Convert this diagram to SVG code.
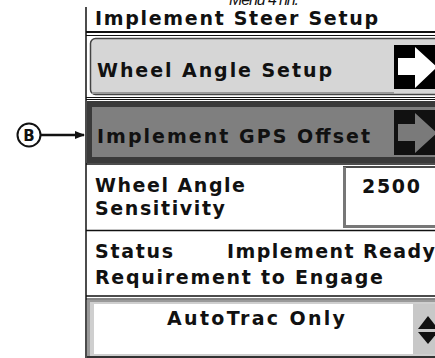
<svg xmlns="http://www.w3.org/2000/svg" width="435" height="358" viewBox="0 0 435 358">
<style>
.t{font-family:"DejaVu Sans",Verdana,sans-serif;font-weight:bold;font-size:19px;fill:#111}
.cap{font-family:"Liberation Sans",Arial,sans-serif;font-style:italic;font-size:16px;fill:#111}
.ln{stroke:#111;fill:none}
</style>
<defs>
<marker id="ah" markerWidth="10" markerHeight="8" refX="9" refY="4" orient="auto" markerUnits="userSpaceOnUse">
<path d="M0,0 L10,4 L0,8 Z" fill="#111"/>
</marker>
</defs>
<rect width="435" height="358" fill="#fff"/>
<text class="cap" x="229" y="5" textLength="70" lengthAdjust="spacing">Menu 4 nn.</text>
<line class="ln" x1="86" y1="7" x2="86" y2="358" stroke-width="1.5"/>

<g id="title">
<text class="t" x="95" y="24.5" textLength="283" lengthAdjust="spacing">Implement Steer Setup</text>
<line class="ln" x1="86" y1="32" x2="435" y2="32" stroke-width="2"/>
<line class="ln" x1="86" y1="35.5" x2="435" y2="35.5" stroke-width="1"/>
</g>

<g id="wheel-angle-setup">
<rect x="90.5" y="38.5" width="360" height="56" rx="5" fill="#d6d6d6" stroke="#444" stroke-width="1.5"/>
<line x1="92" y1="93" x2="394" y2="93" stroke="#999" stroke-width="2"/>
<text class="t" x="97" y="77" textLength="235" lengthAdjust="spacing">Wheel Angle Setup</text>
<rect x="394" y="45" width="41" height="44" fill="#000"/>
<path d="M398,58 H415 V47 L437,67 L415,88 V75 H398 Z" fill="#fff"/>
</g>

<line class="ln" x1="86" y1="97.5" x2="435" y2="97.5" stroke-width="1"/>
<line class="ln" x1="86" y1="99.5" x2="435" y2="99.5" stroke-width="1"/>

<g id="implement-gps-offset">
<rect x="87" y="101" width="348" height="62" fill="#3a3a3a"/>
<rect x="92" y="107" width="343" height="50" fill="#7f7f7f"/>
<text class="t" x="97" y="143" textLength="273" lengthAdjust="spacing">Implement GPS Offset</text>
<rect x="394" y="110" width="41" height="45" fill="#111"/>
<path d="M398,124 H415 V113 L437,133 L415,153 V141 H398 Z" fill="#7a7a7a"/>
</g>

<line class="ln" x1="86" y1="164" x2="435" y2="164" stroke-width="1.5"/>

<g id="callout-b">
<circle cx="29" cy="135" r="11.5" fill="#fff" stroke="#111" stroke-width="2"/>
<text x="29" y="140.5" text-anchor="middle" font-family="DejaVu Sans,Verdana,sans-serif" font-weight="bold" font-size="15" fill="#111">B</text>
<line x1="41" y1="135" x2="84" y2="135" stroke="#111" stroke-width="2.5" marker-end="url(#ah)"/>
</g>

<g id="wheel-angle-sensitivity">
<text class="t" x="95" y="192" textLength="150" lengthAdjust="spacing">Wheel Angle</text>
<text class="t" x="95" y="215" textLength="130" lengthAdjust="spacing">Sensitivity</text>
<rect x="343" y="167" width="92" height="61" fill="#fff"/>
<path d="M343,167 H435" stroke="#111" stroke-width="1.5"/>
<path d="M344.5,167 V226.5 H435" stroke="#777" stroke-width="3" fill="none"/>
<text class="t" x="362" y="193" textLength="58" lengthAdjust="spacing">2500</text>
</g>

<line class="ln" x1="86" y1="230.5" x2="435" y2="230.5" stroke-width="1.5"/>

<g id="status">
<text class="t" x="95" y="258" textLength="78" lengthAdjust="spacing">Status</text>
<text class="t" x="227" y="258" textLength="208" lengthAdjust="spacing">Implement Ready</text>
<text class="t" x="95" y="284" textLength="288" lengthAdjust="spacing">Requirement to Engage</text>
</g>

<line class="ln" x1="86" y1="296" x2="435" y2="296" stroke-width="1.5"/>
<line class="ln" x1="86" y1="299" x2="435" y2="299" stroke-width="1"/>

<g id="autotrac-only">
<rect x="87" y="300" width="348" height="58" fill="#9a9a9a"/>
<rect x="90" y="302" width="345" height="54" fill="#cfcfcf"/>
<rect x="94" y="304" width="341" height="50" fill="#fff"/>
<rect x="413" y="304" width="22" height="50" fill="#c8c8c8"/>
<line x1="87" y1="357" x2="435" y2="357" stroke="#333" stroke-width="2"/>
<text class="t" x="167" y="325" textLength="178" lengthAdjust="spacing">AutoTrac Only</text>
<path d="M418,329 L428,316 L438,329 Z" fill="#111"/>
<path d="M418,332 L438,332 L428,344 Z" fill="#111"/>
</g>
</svg>
